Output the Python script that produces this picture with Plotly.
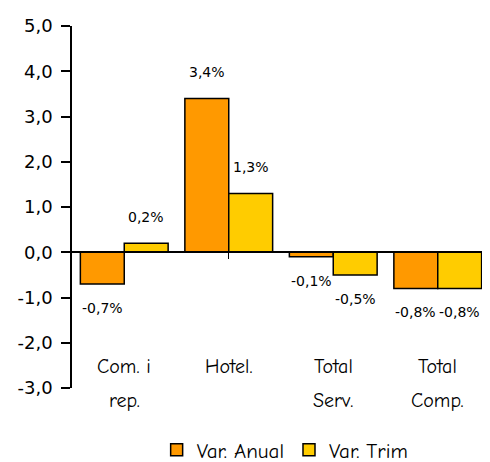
import plotly.graph_objects as go

categories = ["Com. i<br>rep.", "Hotel.", "Total<br>Serv.", "Total<br>Comp."]
var_anual = [-0.7, 3.4, -0.1, -0.8]
var_trim = [0.2, 1.3, -0.5, -0.8]
y_ticks = [-3, -2, -1, 0, 1, 2, 3, 4, 5]

orange = "#FF9900"
yellow = "#FFCC00"
comic = "Comic Sans MS, Comic Neue, Lato, sans-serif"
verdana = "DejaVu Sans"


def fmt(v, suffix=""):
    return f"{v:.1f}".replace(".", ",") + suffix


x_idx = list(range(len(categories)))

fig = go.Figure()
fig.add_trace(go.Bar(x=x_idx, y=var_anual, name="Var. Anual",
                     marker=dict(color=orange, line=dict(color="black", width=1.5))))
fig.add_trace(go.Bar(x=x_idx, y=var_trim, name="Var. Trim",
                     marker=dict(color=yellow, line=dict(color="black", width=1.5))))

# data labels
for series, shift in ((var_anual, -22), (var_trim, 22)):
    for i, v in enumerate(series):
        fig.add_annotation(x=i, y=v, xref="x", yref="y", text=fmt(v, "%"),
                           showarrow=False, xshift=shift,
                           yshift=26 if v >= 0 else -24,
                           font=dict(family=verdana, size=14, color="black"))

# category labels sit low, inside the plot area, with wide line spacing
for i, c in enumerate(categories):
    for k, line in enumerate(c.split("<br>")):
        fig.add_annotation(x=i, y=-2.52, xref="x", yref="y", text=line,
                           showarrow=False, yshift=-34 * k,
                           font=dict(family=comic, size=20, color="black"))

# page body keeps an 8px margin, so the figure is 8px smaller on each side
fig.update_layout(
    template="none",
    width=482, height=454,
    margin=dict(l=64, r=0, t=18, b=74),
    paper_bgcolor="white", plot_bgcolor="white",
    barmode="group", bargap=0.16, bargroupgap=0,
    showlegend=True,
    legend=dict(orientation="h", x=0.575, xanchor="center", xref="container",
                y=0.026, yanchor="middle", yref="container",
                font=dict(family=comic, size=21, color="black"),
                itemwidth=30, tracegroupgap=0),
    xaxis=dict(range=[-0.5, 3.5], tickvals=x_idx, ticktext=["", "", "", ""],
               tickson="boundaries", ticks="outside", ticklen=6, tickcolor="black",
               showline=True, linecolor="black", linewidth=1.5,
               anchor="free", position=3 / 8, showgrid=False, zeroline=False,
               automargin=False),
    yaxis=dict(range=[-3, 5], tickvals=y_ticks, ticktext=[fmt(v) for v in y_ticks],
               ticks="outside", ticklen=9, tickcolor="black", tickwidth=1.5,
               ticklabelstandoff=5,
               showline=True, linecolor="black", linewidth=1.5,
               showgrid=False, zeroline=False, automargin=False,
               tickfont=dict(family=verdana, size=18, color="black")),
)

fig.write_html("out.html")
